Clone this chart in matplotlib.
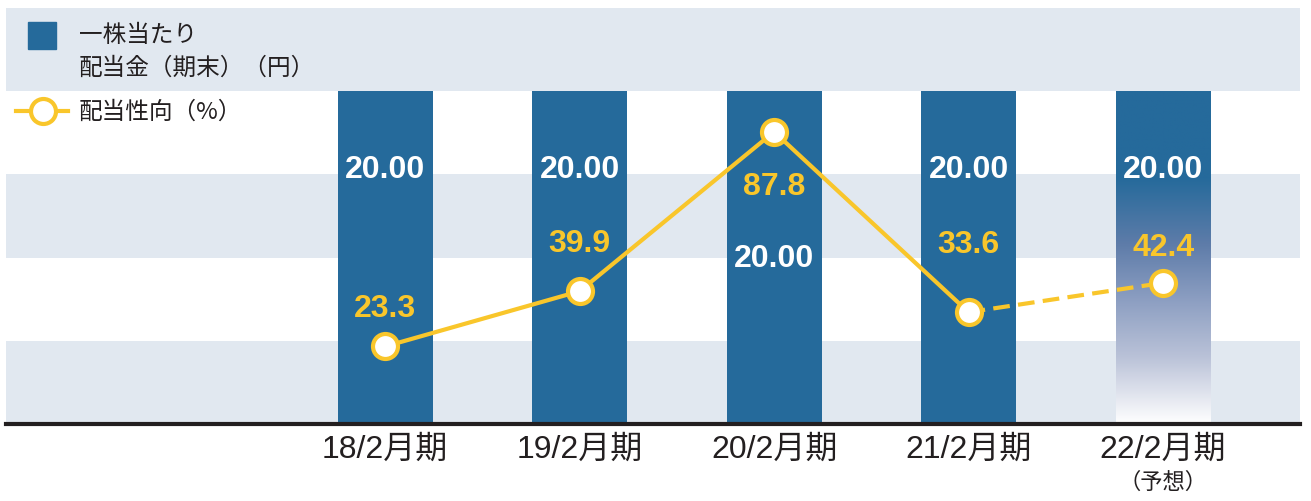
import numpy as np
import matplotlib.pyplot as plt
from matplotlib.colors import LinearSegmentedColormap
from matplotlib.patches import Rectangle
from matplotlib.lines import Line2D

# data
periods = ['18/2月期', '19/2月期', '20/2月期', '21/2月期', '22/2月期']
dividend = [20.00, 20.00, 20.00, 20.00, 20.00]
payout = [23.3, 39.9, 87.8, 33.6, 42.4]
forecast_note = '（予想）'
legend_bar = '一株当たり\n配当金（期末）（円）'
legend_line = '配当性向（%）'

BLUE = '#256a9b'
YELLOW = '#f9c62b'
BAND = '#e1e8f0'
NUM_FONT = ['Liberation Sans', 'Noto Sans CJK JP']
JP_FONT = ['Noto Sans CJK JP', 'DejaVu Sans']
plt.rcParams['font.family'] = JP_FONT

W, H = 1311, 502
fig = plt.figure(figsize=(W / 100, H / 100), dpi=100)
ax = fig.add_axes([6 / W, 77 / H, 1294 / W, 416 / H])
x = np.arange(len(periods))
bw = 0.488

# background bands
for lo in range(0, 25, 10):
    ax.axhspan(lo, lo + 5, color=BAND, lw=0, zorder=0)

# bars (last one = forecast, faded)
ax.bar(x[:4], dividend[:4], width=bw, color=BLUE, zorder=1)
fade = LinearSegmentedColormap.from_list('fade', [
    (0.0, '#ffffff'), (0.2, '#bac2d8'), (0.37, '#8d9fc2'),
    (0.54, '#5e7ca9'), (0.74, BLUE), (1.0, BLUE)])
ax.imshow(np.linspace(0, 1, 256).reshape(-1, 1), cmap=fade, origin='lower',
          aspect='auto', zorder=1,
          extent=[x[4] - bw / 2, x[4] + bw / 2, 0, dividend[4]])

ax.set_xlim(-1.949, 4.704)
ax.set_ylim(0, 25)
ax.set_yticks([])
for s in ['top', 'left', 'right']:
    ax.spines[s].set_visible(False)
ax.spines['bottom'].set_linewidth(3)
ax.spines['bottom'].set_color('#231f20')
ax.set_xticks(x, periods, fontsize=23, family=NUM_FONT, color='#231f20')
ax.tick_params(axis='x', length=0, pad=7)
ax.annotate(forecast_note, xy=(x[4], 0), xytext=(0, -57), textcoords='offset pixels',
            ha='center', va='center', fontsize=16, color='#231f20')

# bar value labels
bar_label_y = [15.3, 15.3, 10.0, 15.3, 15.3]
for xi, v, ly in zip(x, dividend, bar_label_y):
    ax.text(xi, ly, f'{v:.2f}', ha='center', va='center', color='white',
            fontsize=23, fontweight='bold', family=NUM_FONT, zorder=3)

# payout ratio line
ax2 = ax.twinx()
ax2.set_ylim(0, 125)
ax2.axis('off')
ax2.plot(x[:4], payout[:4], color=YELLOW, lw=3, zorder=2)
ax2.plot(x[3:], payout[3:], color=YELLOW, lw=3, ls=(0, (4, 2)), zorder=2)
ax2.plot(x, payout, ls='none', marker='o', ms=18, mfc='white', mec=YELLOW, mew=3, zorder=3)
line_label_dy = [38, 48, -54, 68, 36]
for xi, v, dy in zip(x, payout, line_label_dy):
    ax2.annotate(f'{v:.1f}', xy=(xi, v), xytext=(0, dy), textcoords='offset pixels',
                 ha='center', va='center', color=YELLOW, fontsize=23,
                 fontweight='bold', family=NUM_FONT, zorder=4)

# legend
fig.add_artist(Rectangle((28 / W, 1 - 50 / H), 28 / W, 27 / H,
                         transform=fig.transFigure, color=BLUE))
fig.text(79 / W, 1 - 52 / H, legend_bar, ha='left', va='center', fontsize=17,
         color='#231f20', linespacing=1.5)
fig.add_artist(Line2D([16 / W, 68 / W], [1 - 112 / H] * 2, color=YELLOW, lw=3,
                      transform=fig.transFigure))
fig.add_artist(Line2D([43 / W], [1 - 112 / H], ls='none', marker='o', ms=18, mfc='white',
                      mec=YELLOW, mew=3, transform=fig.transFigure))
fig.text(79 / W, 1 - 112 / H, legend_line, ha='left', va='center', fontsize=17,
         color='#231f20')

fig.savefig('out.png', dpi=100)
